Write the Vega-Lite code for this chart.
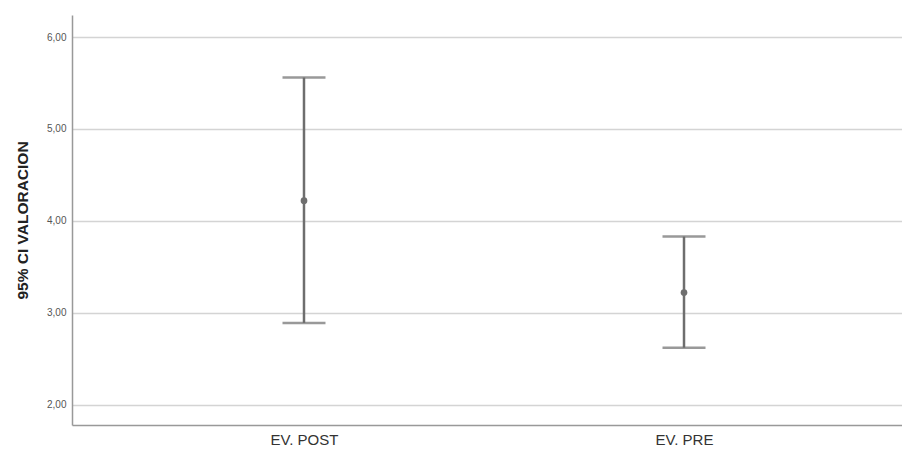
{
  "$schema": "https://vega.github.io/schema/vega-lite/v6.json",
  "autosize": "none",
  "padding": {"left": 72, "top": 15, "right": 0, "bottom": 28},
  "width": 844,
  "height": 410,
  "background": "white",
  "data": {"values": [
    {"grupo": "EV. POST", "media": 4.22, "inferior": 2.89, "superior": 5.56},
    {"grupo": "EV. PRE", "media": 3.22, "inferior": 2.62, "superior": 3.83}
  ]},
  "encoding": {
    "x": {"field": "grupo", "type": "nominal", "sort": null,
      "scale": {"type": "point", "padding": 0.6105},
      "axis": {"title": null, "labelAngle": 0, "labelFontSize": 15, "labelColor": "#333", "labelFont": "Liberation Sans", "labelPadding": 7, "ticks": false, "domainColor": "#999", "domainWidth": 1.5, "grid": false}}
  },
  "layer": [
    {
      "mark": {"type": "rule", "color": "#6e6e6e", "strokeWidth": 2.5},
      "encoding": {
        "y": {"field": "inferior", "type": "quantitative",
          "scale": {"domain": [1.78, 6.24], "nice": false, "zero": false},
          "axis": {"title": "95% CI VALORACION", "titleFont": "Liberation Sans", "titleFontSize": 15.5, "titleFontWeight": "bold", "titleColor": "#222", "titlePadding": 16,
            "values": [2, 3, 4, 5, 6], "labelExpr": "replace(format(datum.value, '.2f'), '.', ',')", "labelFontSize": 10, "labelColor": "#555", "labelFont": "Liberation Sans", "labelPadding": 6,
            "ticks": false, "domainColor": "#999", "domainWidth": 1.5, "gridColor": "#d4d4d4", "gridWidth": 1.5}},
        "y2": {"field": "superior"}
      }
    },
    {
      "mark": {"type": "tick", "color": "#6e6e6e", "size": 43, "thickness": 2.5, "orient": "horizontal"},
      "encoding": {"y": {"field": "inferior", "type": "quantitative"}}
    },
    {
      "mark": {"type": "tick", "color": "#6e6e6e", "size": 43, "thickness": 2.5, "orient": "horizontal"},
      "encoding": {"y": {"field": "superior", "type": "quantitative"}}
    },
    {
      "mark": {"type": "point", "filled": true, "color": "#6e6e6e", "size": 45, "opacity": 1},
      "encoding": {"y": {"field": "media", "type": "quantitative"}}
    }
  ],
  "config": {"view": {"stroke": null}}
}
